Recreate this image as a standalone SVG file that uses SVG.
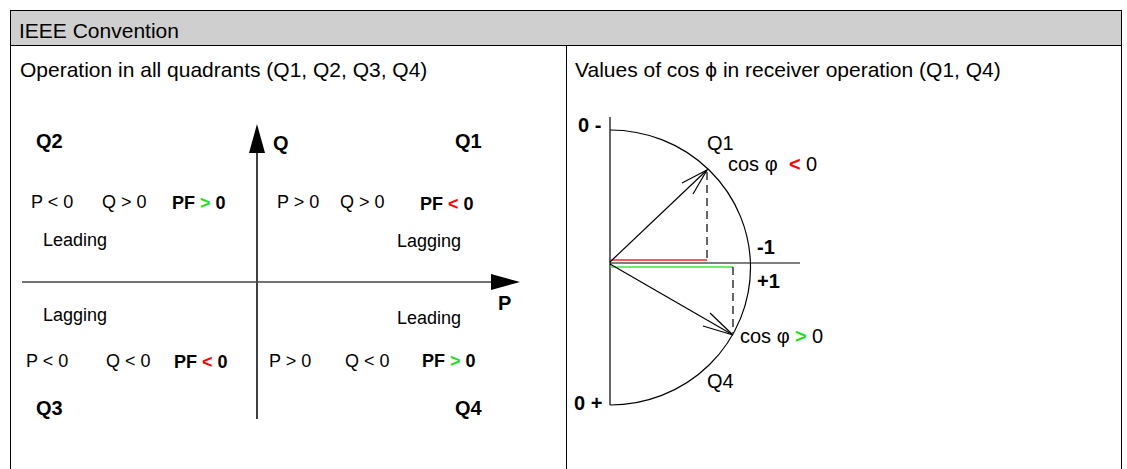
<svg xmlns="http://www.w3.org/2000/svg" width="1127" height="469" viewBox="0 0 1127 469">
<style>
text{font-family:"Liberation Sans",Arial,sans-serif;font-size:18px;fill:#000}
.h{font-size:21px}
.b{font-weight:bold}
.q{font-weight:bold;font-size:20px}
.m{font-size:20px}
.r{fill:#ff0000;font-weight:bold}
.g{fill:#22dd22;font-weight:bold}
.ln{stroke:#000;stroke-width:1.2;fill:none}
.ax{stroke:#000;stroke-width:1.5;fill:none}
.ds{stroke:#000;stroke-width:1.2;stroke-dasharray:8,5;fill:none}
</style>
<rect x="0" y="0" width="1127" height="469" fill="#fff"/>
<g id="table">
<rect x="10.5" y="10.5" width="1111" height="35" fill="#cfcfcf" stroke="#000"/>
<line x1="10.5" y1="10" x2="10.5" y2="469" stroke="#000"/>
<line x1="1121.5" y1="10" x2="1121.5" y2="469" stroke="#000"/>
<line x1="566.5" y1="46" x2="566.5" y2="469" stroke="#000"/>
<text class="h" x="19" y="38">IEEE Convention</text>
<text class="h" x="20" y="77">Operation in all quadrants (Q1, Q2, Q3, Q4)</text>
<text class="h" x="575" y="77">Values of cos ϕ in receiver operation (Q1, Q4)</text>
</g>
<g id="connectors">
<line class="ax" x1="257" y1="150" x2="257" y2="419"/>
<polygon points="257,124 265,153 249,153" fill="#000"/>
<line x1="22" y1="282" x2="494" y2="282" stroke="#444" stroke-width="1.5"/>
<polygon points="520,282 491,274 491,290" fill="#000"/>
<line class="ln" x1="610" y1="117" x2="610" y2="405"/>
<path class="ln" d="M610,130 A140,137 0 0 1 610,405"/>
<line class="ln" x1="610" y1="263" x2="800" y2="263"/>
<line x1="610" y1="260" x2="707" y2="260" stroke="#ff2020" stroke-width="1.5"/>
<line x1="610" y1="267" x2="733" y2="267" stroke="#44e044" stroke-width="1.5"/>
<line class="ds" x1="707" y1="172" x2="707" y2="263"/>
<line class="ds" x1="733" y1="267" x2="733" y2="333"/>
<line class="ln" x1="610" y1="262" x2="707" y2="170"/>
<polyline class="ln" points="682,183 707,170 693,194"/>
<line class="ln" x1="610" y1="264" x2="733" y2="335"/>
<polyline class="ln" points="710,313 733,335 703,326"/>
</g>
<g id="quadrants">
<text class="q" x="36" y="148">Q2</text>
<text class="q" x="273" y="150">Q</text>
<text class="q" x="455" y="148">Q1</text>
<text x="31" y="208">P &lt; 0</text>
<text x="102" y="208">Q &gt; 0</text>
<text class="b" x="172" y="209">PF <tspan class="g">&gt;</tspan> 0</text>
<text x="43" y="246">Leading</text>
<text x="277" y="208">P &gt; 0</text>
<text x="340" y="208">Q &gt; 0</text>
<text class="b" x="420" y="210">PF <tspan class="r">&lt;</tspan> 0</text>
<text x="397" y="247">Lagging</text>
<text class="q" x="498" y="310">P</text>
<text x="43" y="321">Lagging</text>
<text x="397" y="324">Leading</text>
<text x="26" y="367">P &lt; 0</text>
<text x="106" y="367">Q &lt; 0</text>
<text class="b" x="174" y="368">PF <tspan class="r">&lt;</tspan> 0</text>
<text x="269" y="367">P &gt; 0</text>
<text x="345" y="367">Q &lt; 0</text>
<text class="b" x="422" y="367">PF <tspan class="g">&gt;</tspan> 0</text>
<text class="q" x="36" y="415">Q3</text>
<text class="q" x="455" y="415">Q4</text>
</g>
<g id="cosphi">
<text class="q" x="578" y="132">0 -</text>
<text class="m" x="707" y="150">Q1</text>
<text class="m" x="728" y="171">cos φ<tspan class="r" x="789">&lt;</tspan><tspan x="806">0</tspan></text>
<text class="q" x="757" y="254">-1</text>
<text class="q" x="757" y="288">+1</text>
<text class="m" x="740" y="343">cos φ<tspan class="g" x="795">&gt;</tspan><tspan x="812">0</tspan></text>
<text class="m" x="707" y="388">Q4</text>
<text class="q" x="574" y="410">0 +</text>
</g>
</svg>
